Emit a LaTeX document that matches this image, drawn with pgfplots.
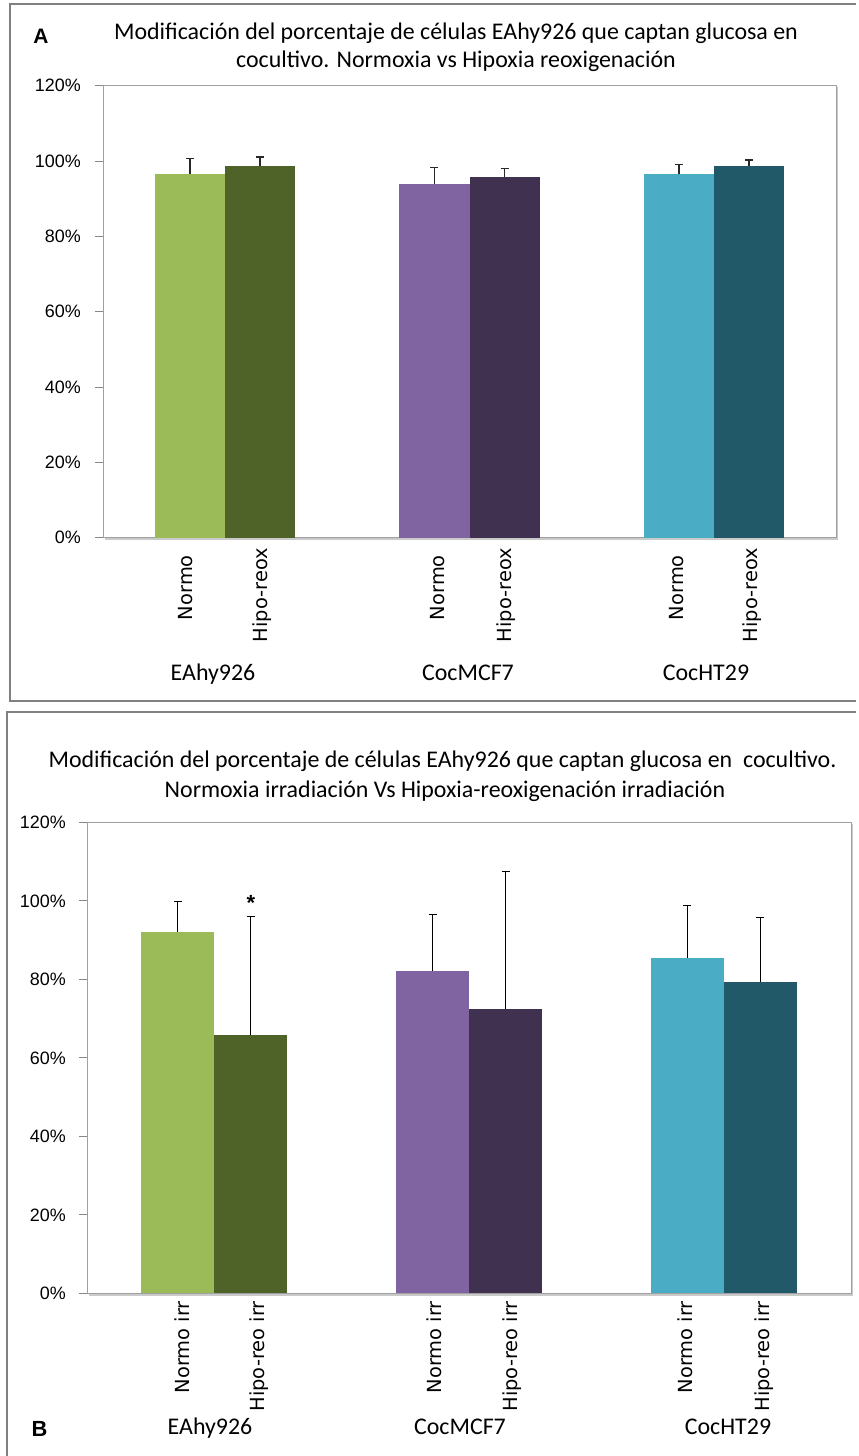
\documentclass[border=0pt]{standalone}
\usepackage{fontspec}
\setmainfont{Carlito}
\newfontfamily\dejavu{DejaVu Sans}
\newfontfamily\arial{Liberation Sans}
\usepackage{pgfplots}
\pgfplotsset{compat=1.18}
\definecolor{g1}{HTML}{9BBB59}
\definecolor{g2}{HTML}{4F6228}
\definecolor{p1}{HTML}{8064A2}
\definecolor{p2}{HTML}{403151}
\definecolor{t1}{HTML}{4BACC6}
\definecolor{t2}{HTML}{215968}
\definecolor{framegray}{HTML}{808080}
\definecolor{axgray}{HTML}{888888}
\definecolor{boxgray}{HTML}{A0A0A0}
\definecolor{shadowgray}{HTML}{CACACA}
\definecolor{errgray}{HTML}{282828}
\tikzset{
  errA/.style={draw=errgray, line width=1.5bp},
  errB/.style={draw=black, line width=1bp},
}
\pgfplotsset{
  panel/.style={
    scale only axis, xmin=-0.5, xmax=2.5, ymin=0, ymax=120,
    ytick={0,20,40,60,80,100,120},
    yticklabels={0\%,20\%,40\%,60\%,80\%,100\%,120\%},
    yticklabel style={font=\arial\fontsize{18}{21}\selectfont, anchor=east, inner sep=0pt},
    xtick=\empty,
    tick align=outside, major tick length=8bp, ytick pos=left,
    tick style={axgray, line width=1bp},
    axis line style={boxgray, line width=1bp},
    clip=false,
    after end axis/.code={
      \draw[shadowgray, line width=1.5bp] ([xshift=1.5bp,yshift=-1.5bp]rel axis cs:0,0) -- ([xshift=1.5bp,yshift=-1.5bp]rel axis cs:1,0) -- ([xshift=1.5bp,yshift=-1.5bp]rel axis cs:1,1);
    },
  },
}
% color, x (bar centre), value, error, error style
\newcommand{\onebar}[5]{\addplot[ybar, bar width=0.2866, bar shift=0, fill=#1, draw=none,
  error bars/.cd, y dir=plus, y explicit, error bar style={#5}, error mark=-,
  error mark options={#5, rotate=90, mark size=4bp}]
  coordinates {(#2,#3) +- (0,#4)};}
\begin{document}
\begin{tikzpicture}[x=1bp,y=1bp]
\useasboundingbox (0,0) rectangle (858,1456);
% ---------- Panel A ----------
\begin{axis}[panel, at={(103bp,918.3bp)}, anchor=south west, width=733bp, height=452bp,
  yticklabel style={xshift=-14bp}]
\onebar{g1}{-0.1433}{96.55}{4.15}{errA}
\onebar{g2}{0.1433}{98.7}{2.3}{errA}
\onebar{p1}{0.8567}{93.8}{4.5}{errA}
\onebar{p2}{1.1433}{95.75}{2.3}{errA}
\onebar{t1}{1.8567}{96.55}{2.55}{errA}
\onebar{t2}{2.1433}{98.7}{1.5}{errA}
\end{axis}
% ---------- Panel B ----------
\begin{axis}[panel, at={(87bp,162.5bp)}, anchor=south west, width=764bp, height=471bp,
  yticklabel style={xshift=-13bp}]
\onebar{g1}{-0.1433}{92.0}{7.9}{errB}
\onebar{g2}{0.1433}{65.8}{30.2}{errB}
\onebar{p1}{0.8567}{82.1}{14.4}{errB}
\onebar{p2}{1.1433}{72.4}{35.2}{errB}
\onebar{t1}{1.8567}{85.6}{13.3}{errB}
\onebar{t2}{2.1433}{79.3}{16.6}{errB}
\end{axis}
% frames (open on the right / bottom, as in the reference)
\draw[framegray, line width=2.2bp] (856,755) -- (10,755) -- (10,1452) -- (856,1452);
\draw[framegray, line width=2.2bp] (7,0) -- (7,744) -- (856,744);
% titles
\node[anchor=base, inner sep=0pt, font=\fontsize{24}{29}\selectfont] at (456,1416) {Modificación del porcentaje de células EAhy926 que captan glucosa en};
\node[anchor=base, inner sep=0pt, font=\fontsize{24}{29}\selectfont] at (456,1388) {cocultivo. Normoxia vs Hipoxia reoxigenación};
\node[anchor=base, inner sep=0pt, font=\fontsize{24}{29}\selectfont] at (442.5,688) {Modificación del porcentaje de células EAhy926 que captan glucosa en~ cocultivo.};
\node[anchor=base, inner sep=0pt, font=\fontsize{24}{29}\selectfont] at (445,658) {Normoxia irradiación Vs Hipoxia-reoxigenación irradiación};
\node[inner sep=0pt, font=\arial\bfseries\fontsize{21}{24}\selectfont] at (41,1420) {A};
\node[inner sep=0pt, font=\arial\bfseries\fontsize{22}{26}\selectfont] at (39.5,27) {B};
% rotated category labels
\begin{scope}[every node/.style={rotate=90, anchor=east, inner sep=0pt, font=\dejavu\fontsize{19.5}{23}\selectfont}]
\node at (185.5,901) {Normo};
\node at (262,908) {Hipo-reox};
\node at (438,901) {Normo};
\node at (506,908) {Hipo-reox};
\node at (677,901) {Normo};
\node at (752,908) {Hipo-reox};
\node at (182,155) {Normo irr};
\node at (259,155) {Hipo-reo irr};
\node at (434,155) {Normo irr};
\node at (512,155) {Hipo-reo irr};
\node at (685,155) {Normo irr};
\node at (764,155) {Hipo-reo irr};
\end{scope}
% group labels
\begin{scope}[every node/.style={anchor=base, inner sep=0pt, font=\fontsize{24}{29}\selectfont}]
\node at (213,775) {EAhy926};
\node at (468,775) {CocMCF7};
\node at (706,775) {CocHT29};
\node at (210,21) {EAhy926};
\node at (460,21) {CocMCF7};
\node at (728,21) {CocHT29};
\end{scope}
% significance star
\node[anchor=north, inner sep=0pt, font=\arial\bfseries\fontsize{22}{26}\selectfont] at (251,561) {*};
\end{tikzpicture}
\end{document}
